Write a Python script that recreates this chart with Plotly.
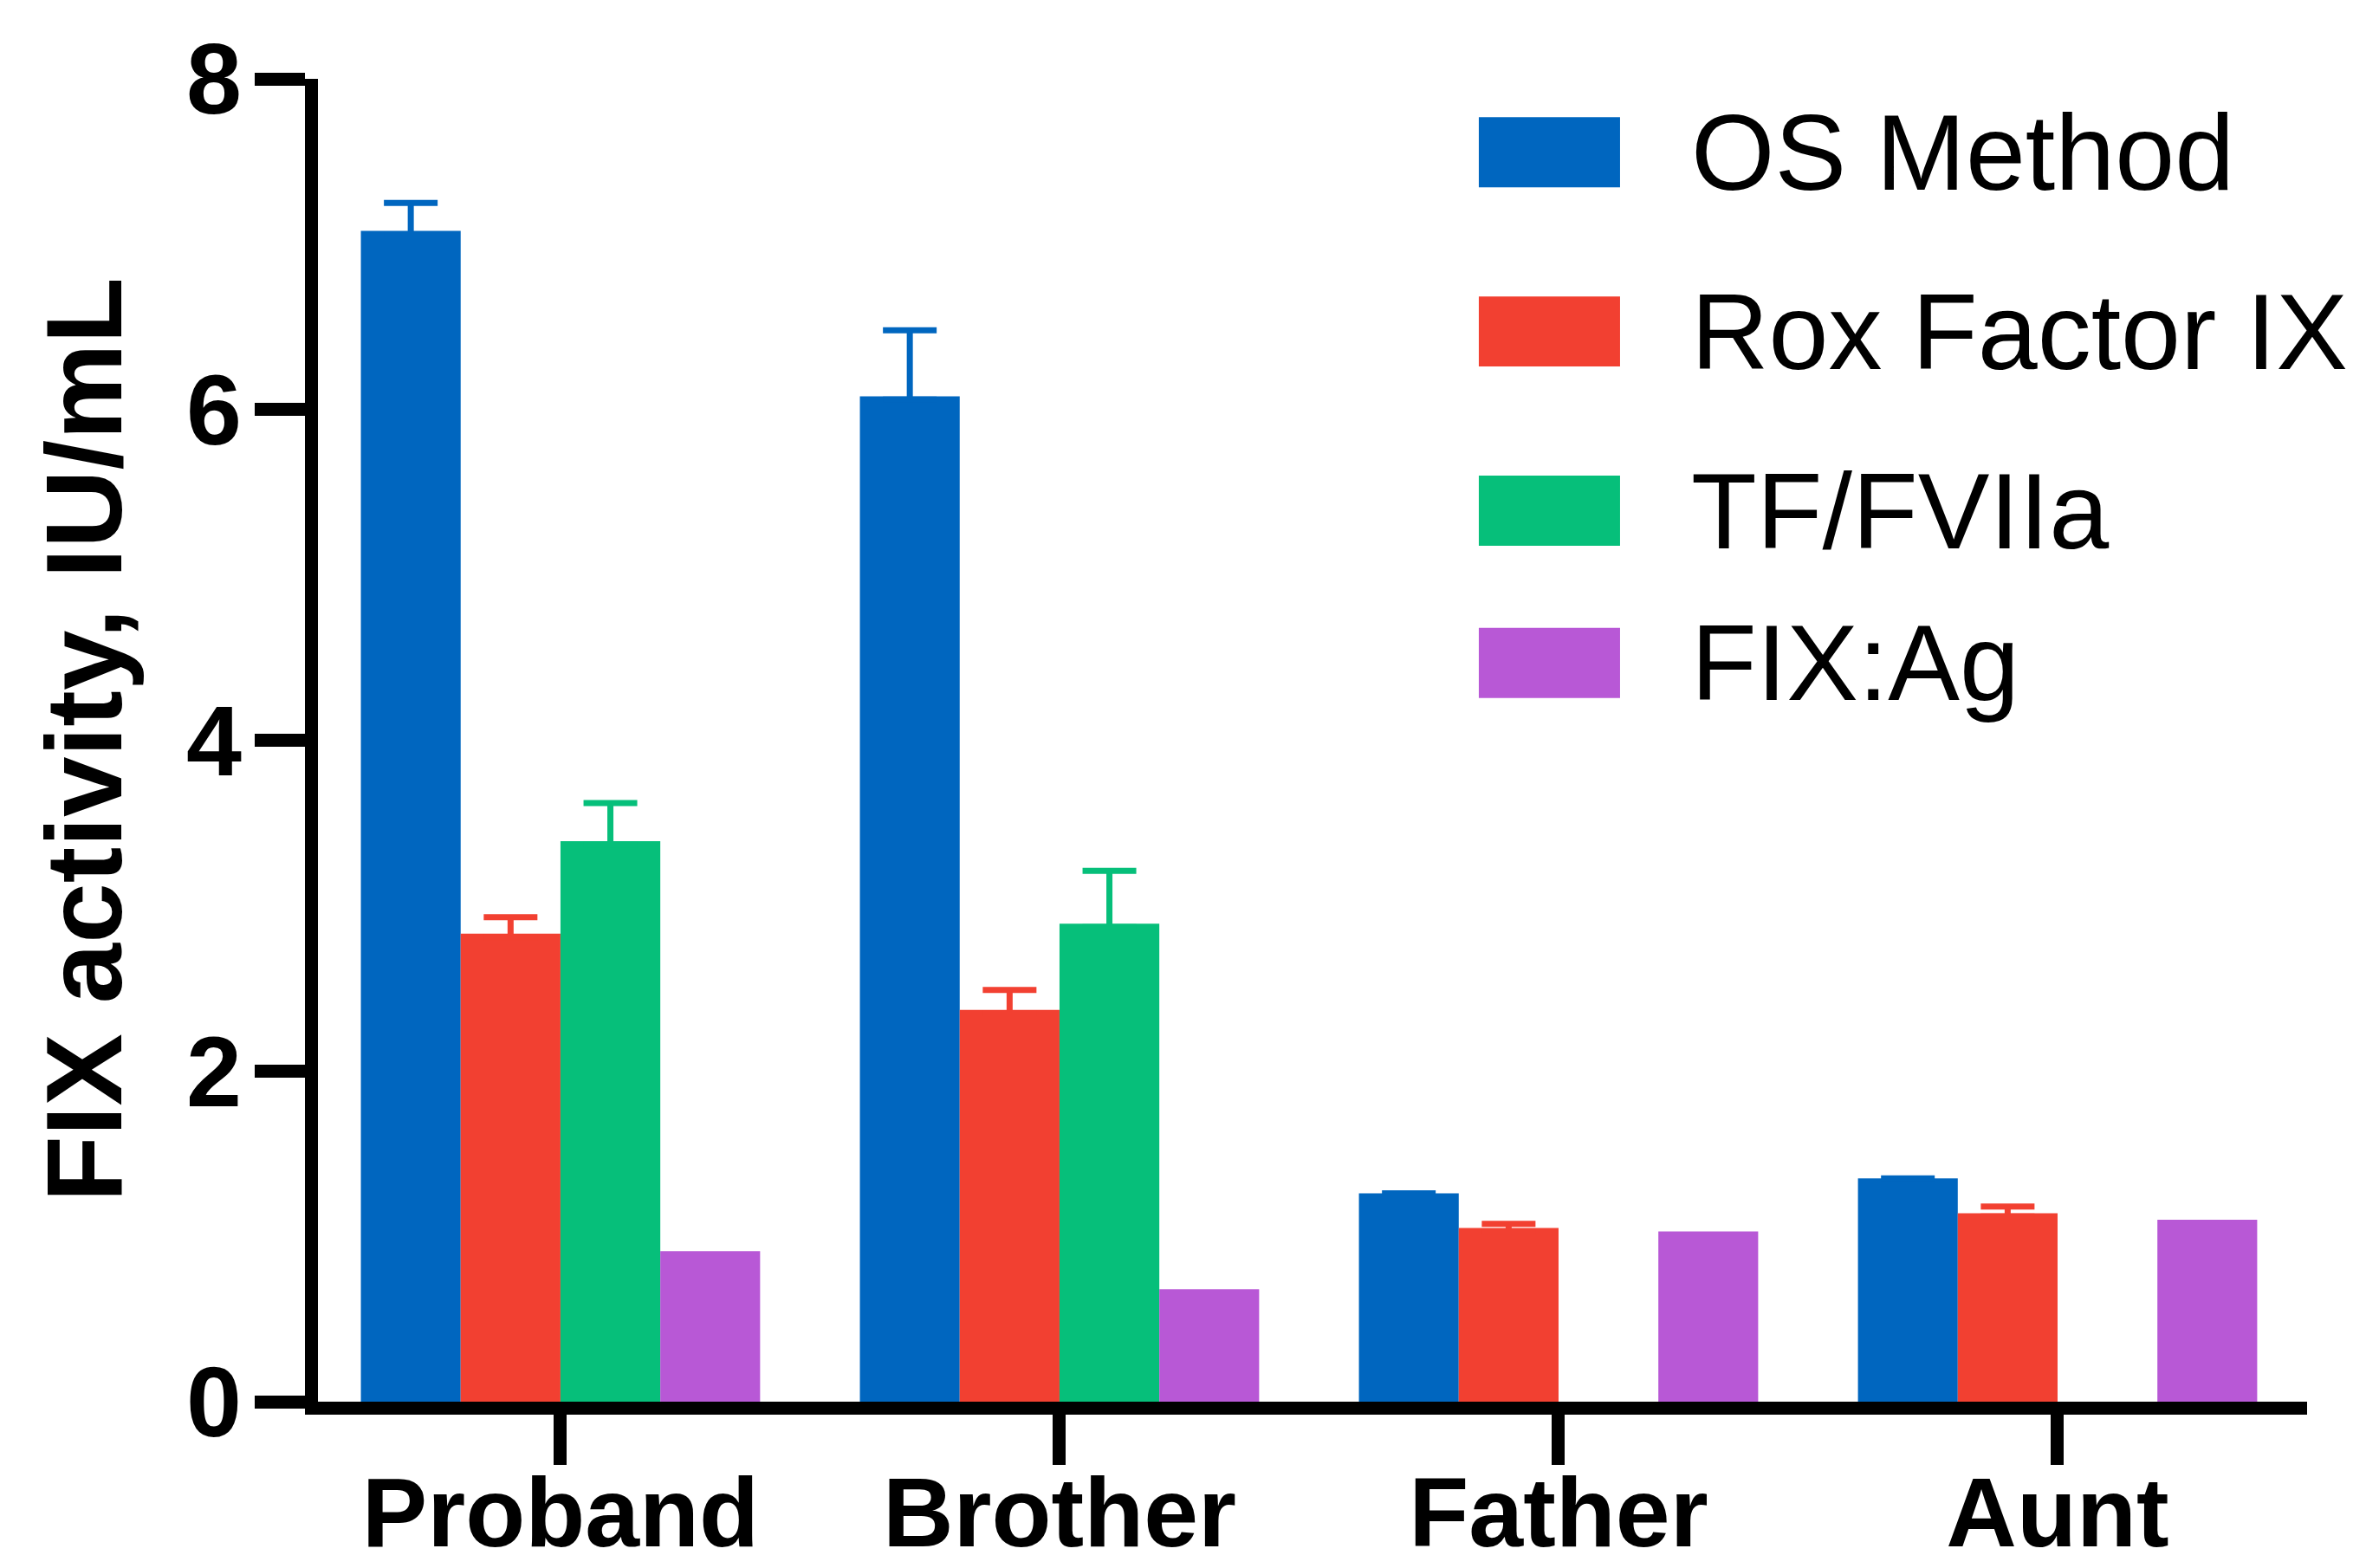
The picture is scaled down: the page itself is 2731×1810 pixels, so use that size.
import plotly.graph_objects as go

# ---- data ----
categories = ["Proband", "Brother", "Father", "Aunt"]
series_names = ["OS Method", "Rox Factor IX", "TF/FVIIa", "FIX:Ag"]
os_method = [7.08, 6.08, 1.26, 1.35]
os_method_err = [0.17, 0.40, None, None]
rox_factor_ix = [2.83, 2.37, 1.05, 1.14]
rox_factor_ix_err = [0.10, 0.12, 0.025, 0.04]
tf_fviia = [3.39, 2.89, None, None]
tf_fviia_err = [0.23, 0.32, None, None]
fix_ag = [0.91, 0.68, 1.03, 1.10]
fix_ag_err = [None, None, None, None]
y_ticks = [0, 2, 4, 6, 8]

values = [os_method, rox_factor_ix, tf_fviia, fix_ag]
errors = [os_method_err, rox_factor_ix_err, tf_fviia_err, fix_ag_err]
colors = ["#0066BF", "#F24031", "#06BF7A", "#B858D6"]

FONT = "Liberation Sans, Arial, Helvetica, sans-serif"
CAP_HIDE = 0.02  # tuck the (unused) lower cap inside the bar top

fig = go.Figure()
for name, vals, errs, col in zip(series_names, values, errors, colors):
    has_err = any(e is not None for e in errs)
    fig.add_trace(go.Bar(
        x=categories, y=vals, name=name,
        marker=dict(color=col, line=dict(width=0)),
        error_y=dict(type="data", symmetric=False,
                     array=[e if e is not None else float("nan") for e in errs],
                     arrayminus=[CAP_HIDE if e is not None else float("nan") for e in errs],
                     color=col, thickness=7, width=31,
                     visible=has_err),
        showlegend=False,
    ))

# ---- custom legend (large swatches + text) ----
legend_rows = [0.9445, 0.8090, 0.6735, 0.5585]
for name, col, yc in zip(series_names, colors, legend_rows):
    fig.add_shape(type="rect", xref="paper", yref="paper",
                  x0=0.5836, x1=0.6546, y0=yc - 0.0265, y1=yc + 0.0265,
                  fillcolor=col, line=dict(width=0))
    fig.add_annotation(xref="paper", yref="paper", x=0.6895, y=yc,
                       xanchor="left", yanchor="middle", showarrow=False,
                       text=name, font=dict(family=FONT, size=124, color="black"))

# y-axis title
fig.add_annotation(xref="paper", yref="paper", x=-0.118, y=0.5,
                   xanchor="center", yanchor="middle", showarrow=False,
                   textangle=-90, text="FIX activity, IU/mL",
                   font=dict(family=FONT, size=125, color="black", weight="bold"))

fig.update_layout(
    width=2731, height=1810,
    margin=dict(l=359, r=76, t=83, b=200),
    paper_bgcolor="white", plot_bgcolor="white",
    barmode="group", bargap=0.2, bargroupgap=0,
    showlegend=False,
    font=dict(family=FONT, color="black"),
    xaxis=dict(range=[-0.486, 3.5], showline=True, linewidth=15, linecolor="black",
               ticks="outside", ticklen=58, tickwidth=15, tickcolor="black",
               showgrid=False, zeroline=False, automargin=False,
               ticklabelstandoff=-42,
               tickfont=dict(family=FONT, size=113, color="black", weight="bold")),
    yaxis=dict(range=[0, 8], tickvals=y_ticks, showline=True, linewidth=15,
               linecolor="black", ticks="outside", ticklen=58, tickwidth=15,
               tickcolor="black", showgrid=False, zeroline=False, automargin=False,
               ticklabelstandoff=-8,
               tickfont=dict(family=FONT, size=115, color="black", weight="bold")),
)

fig.write_html("out.html")
